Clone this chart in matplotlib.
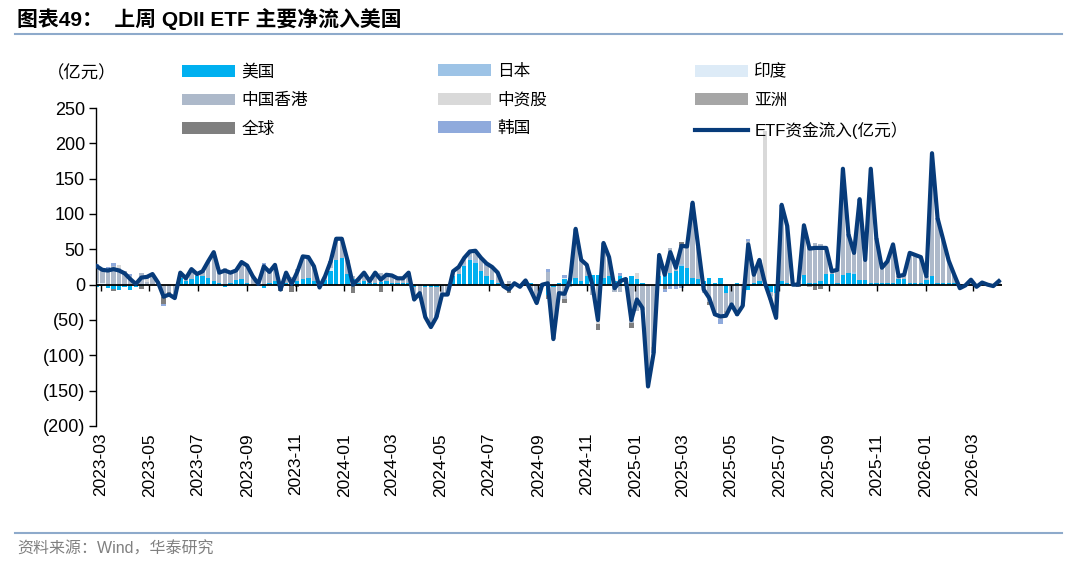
import matplotlib
matplotlib.use("Agg")
import matplotlib.pyplot as plt
from matplotlib.patches import Patch
from matplotlib.lines import Line2D
from matplotlib.ticker import FuncFormatter, MultipleLocator
import numpy as np
import pandas as pd

plt.rcParams['font.family'] = ['Liberation Sans', 'Noto Sans CJK SC', 'DejaVu Sans']

# weekly data, 亿元
weeks = pd.date_range('2023-02-24', periods=163, freq='7D')

total = [26, 21, 20, 22, 20, 16, 8, 1, 10, 11,
         15, 3, -17, -14, -19, 17, 9, 22, 15, 19,
         33, 46, 17, 20, 17, 20, 32, 27, 12, 1,
         26, 18, 28, -7, 17, 1, 18, 40, 39, 26,
         -4, 12, 33, 65, 65, 35, 0, 8, 17, 5,
         17, 7, 14, 13, 9, 9, 17, -21, -12, -46,
         -60, -46, -14, -14, 19, 25, 38, 47, 48, 38,
         30, 25, 17, -2, -7, 2, -3, 6, -9, -26,
         0, 2, -77, -12, -13, 7, 79, 35, 28, 0,
         -50, 59, 39, -5, 5, 8, -50, -21, -33, -144,
         -97, 42, 14, 46, 24, 55, 54, 116, 54, -7,
         -19, -42, -45, -44, -28, -42, -30, 57, 14, 35,
         2, -21, -47, 113, 83, 0, 0, 84, 51, 52,
         52, 52, 19, 21, 164, 71, 45, 121, 35, 164,
         66, 24, 33, 57, 12, 14, 45, 42, 39, 12,
         186, 94, 64, 34, 14, -5, -1, 7, -3, 3,
         0, -2, 5]

us = [-3, -2, -5, -6, -8, -4, -7, -3, -2, 0,
      0, 0, 0, 0, 0, 10, 5, 8, 12, 12,
      10, 5, 2, -3, 3, 6, 8, 2, 0, 0,
      -5, 2, 5, -3, 3, 0, 5, 8, 10, 5,
      -2, 6, 20, 35, 38, 15, 8, 3, 5, 2,
      3, 4, 5, 3, 2, 3, 2, -3, -2, -3,
      -4, -3, -2, 0, 12, 15, 26, 35, 30, 20,
      12, 7, 3, 0, -2, 2, 0, 3, 2, 0,
      -3, -15, -3, 3, 8, 10, 10, 5, 12, 14,
      14, 10, 12, 5, 12, 10, 12, 8, 3, 0,
      0, 12, 13, 17, 20, 26, 24, 10, 8, 5,
      10, 3, 10, -12, 0, 2, 0, -8, 3, 5,
      0, -10, -12, 5, 3, 0, 0, 14, 3, 2,
      5, 15, 15, 3, 14, 17, 15, 6, 6, 3,
      3, 2, 2, 3, 8, 8, 3, 2, 2, 7,
      12, 3, 2, 2, 2, 0, 0, 1, 0, 1,
      0, 0, 1]

hk = [24, 20, 21, 27, 23, 20, 12, 4, 16, 4,
      11, 3, -17, -11, -14, 3, 4, 14, 3, 4,
      19, 36, 15, 23, 14, 14, 24, 25, 12, 1,
      20, 16, 23, -2, 11, 11, 17, 29, 25, 21,
      -2, 2, 7, 30, 24, 20, 4, 5, 8, 3,
      11, 13, 6, 10, 7, 6, 15, -14, -10, -40,
      -51, -40, -12, -14, 7, 10, 9, 8, 13, 18,
      15, 18, 14, -2, 5, 0, -3, 3, -11, -26,
      3, 18, -74, -15, -20, -3, 69, 30, 13, -14,
      -50, 49, 27, -10, -11, -2, -54, -37, -36, -136,
      -88, 30, 12, 35, 10, 26, 30, 101, 46, -12,
      -24, -41, -49, -25, -28, -40, -30, 62, 11, 30,
      2, -6, -31, 105, 80, 0, 4, 67, 52, 57,
      53, 34, 4, 18, 150, 51, 27, 112, 29, 158,
      63, 22, 31, 54, 4, 6, 39, 40, 37, 5,
      174, 88, 62, 32, 12, -2, -1, 6, 0, 2,
      0, 1, 4]

# small series, only non-zero weeks (week index: value)
japan = {66: 3, 67: 4, 68: 5, 105: 3, 136: 3}
india = {0: 2, 1: 3, 42: 3, 84: 2}
china = {4: 5, 9: 4, 10: 4, 30: 8, 90: -6, 97: 8, 120: 215, 121: -5}
asia = {44: 3, 100: -4, 113: -3, 128: -4}
glob = {3: -3, 8: -4, 12: -10, 13: -3, 14: -5, 33: -4, 35: -10, 36: -4,
        46: -12, 51: -10, 74: -10, 81: -5, 84: -6, 90: -8, 96: -8, 102: -6,
        105: 5, 110: -5, 126: -4, 129: -7, 130: -6, 155: -3, 158: -3, 161: -3}
korea = {0: 3, 2: 4, 3: 4, 6: 3, 9: 3, 12: -3, 15: 4, 19: 3, 20: 4, 21: 5,
         30: 3, 34: 3, 37: 3, 38: 4, 41: 4, 42: 3, 48: 4, 50: 3, 52: 3,
         57: -4, 59: -3, 60: -5, 61: -3, 70: 3, 81: 4, 84: 3, 88: 3, 94: 4,
         99: -8, 100: -5, 102: -5, 103: -6, 104: -6, 105: -5, 107: 5,
         111: -4, 112: -6, 113: -4, 115: -4, 117: 3, 122: -4, 123: 3,
         127: 3, 131: 3, 135: 3, 137: 3, 139: 3, 146: 3, 151: 3}


def dense(d):
    a = np.zeros(len(weeks))
    for k, v in d.items():
        a[k] = v
    return a


series = [
    ('美国', np.array(us, float), '#00B0F0'),
    ('日本', dense(japan), '#9DC3E6'),
    ('印度', dense(india), '#DDEBF7'),
    ('中国香港', np.array(hk, float), '#ADB9CA'),
    ('中资股', dense(china), '#D9D9D9'),
    ('亚洲', dense(asia), '#A6A6A6'),
    ('全球', dense(glob), '#7F7F7F'),
    ('韩国', dense(korea), '#8FAADC'),
]
line_color = '#073B7A'

W, H = 1080, 565
fig = plt.figure(figsize=(W / 100, H / 100), dpi=100)
ax = fig.add_axes([96 / W, 1 - 426 / H, (1002 - 96) / W, (426 - 108) / H])

pos = np.zeros(len(weeks))
neg = np.zeros(len(weeks))
for name, vals, col in series:
    bottom = np.where(vals >= 0, pos, neg)
    ax.bar(weeks, vals, width=5.5, bottom=bottom, color=col, linewidth=0, zorder=2)
    pos = pos + np.where(vals > 0, vals, 0)
    neg = neg + np.where(vals < 0, vals, 0)

ax.axhline(0, color='black', lw=1.3, zorder=3)
ticks = pd.date_range('2023-03-01', '2026-03-01', freq='2MS')
ax.plot(ticks, np.zeros(len(ticks)), ls='none', marker=3, ms=4, mew=1,
        color='black', zorder=3)
ax.plot(weeks, total, color=line_color, lw=3.0, zorder=4)

ax.set_xlim(pd.Timestamp('2023-02-23'), pd.Timestamp('2026-04-07'))
ax.set_ylim(-200, 250)
ax.set_xticks(ticks)
ax.set_xticklabels([t.strftime('%Y-%m') for t in ticks])
ax.tick_params(axis='x', length=0, rotation=90, labelsize=12.5, pad=5)
ax.yaxis.set_major_locator(MultipleLocator(50))
ax.yaxis.set_major_formatter(FuncFormatter(
    lambda v, p: f'({abs(int(v))})' if v < 0 else f'{int(v)}'))
ax.tick_params(axis='y', direction='out', length=5, width=1, labelsize=13, pad=3)
for s in ['top', 'right', 'bottom']:
    ax.spines[s].set_visible(False)
ax.spines['left'].set_linewidth(1)

# legend, three columns
handles = [Patch(facecolor=c, edgecolor='none', label=n) for n, v, c in series]
handles.append(Line2D([], [], color=line_color, lw=3.0, label='ETF资金流入(亿元）'))
cols_x = [182, 438, 695]
for j in range(3):
    hs = handles[j::3]
    fig.legend(handles=hs, loc='upper left', bbox_to_anchor=(cols_x[j] / W, 1 - 64 / H),
               frameon=False, fontsize=12, borderpad=0, borderaxespad=0,
               handlelength=3.2, handleheight=0.72, handletextpad=0.35,
               labelspacing=0.8)

fig.text(47 / W, 1 - 73 / H, '（亿元）', fontsize=12.5, va='center')
fig.text(17 / W, 1 - 19 / H, '图表49：  上周 QDII ETF 主要净流入美国',
         fontsize=15, fontweight='bold', va='center')
fig.add_artist(Line2D([15 / W, 1062 / W], [1 - 34 / H] * 2, color='#8EAACB', lw=1.5))
fig.add_artist(Line2D([15 / W, 1062 / W], [1 - 533 / H] * 2, color='#8EAACB', lw=1.5))
fig.text(17 / W, 1 - 549 / H, '资料来源：Wind，华泰研究', fontsize=11.5,
         color='#808080', va='center')

fig.savefig('out.png', dpi=100)
